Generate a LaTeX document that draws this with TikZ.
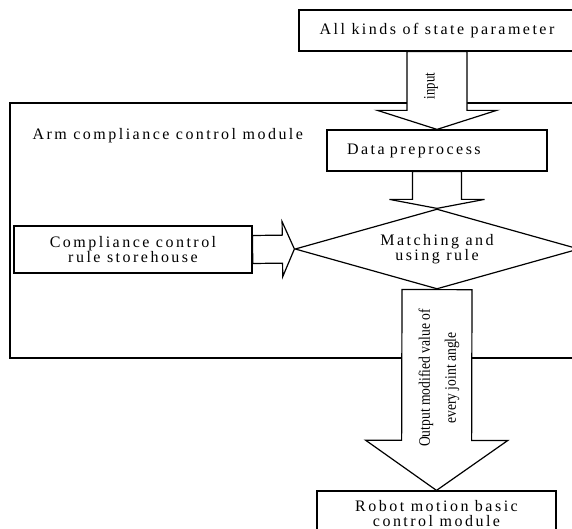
\documentclass[tikz,border=0pt]{standalone}
\usepackage{fontspec}
\setmainfont[LetterSpace=15.5]{Liberation Serif}
\newfontfamily\narrowfont{Liberation Serif}
\usetikzlibrary{shapes.geometric, calc}

% block arrow: start, tip, half shaft width, half head width, head length
\newcommand{\fatarrow}[5]{%
  \coordinate (hb) at ($(#2)!#5!(#1)$);
  \draw[fatarrow] ($(#1)!#3!90:(#2)$) -- ($(hb)!#3!-90:(#1)$) -- ($(hb)!#4!-90:(#1)$) -- (#2)
    -- ($(hb)!#4!90:(#1)$) -- ($(hb)!#3!90:(#1)$) -- ($(#1)!#3!-90:(#2)$) -- cycle;}

\begin{document}
\begin{tikzpicture}[x=1pt, y=-1pt, line width=1.2pt,
                    blockbox/.style={draw, rectangle, align=center, inner sep=0pt, font=\fontsize{16}{15}\selectfont},
                    plaintext/.style={align=center, inner sep=0pt, font=\fontsize{16}{15}\selectfont},
                    turnedtext/.style={rotate=90, align=center, inner sep=0pt, font=\narrowfont\fontsize{16}{26}\selectfont},
                    fatarrow/.style={draw, fill=white}]
    \useasboundingbox (0,0) rectangle (572,529);
    \clip (0,0) rectangle (572,529);
    % Outer module
    \draw (10,103) rectangle (600,358);
    \node[plaintext, anchor=west] (armlabel) at (32,136) {Arm compliance control module};
    % Boxes
    \node[blockbox, minimum width=276pt, minimum height=41pt] (state) at (437,30.5) {All kinds of state parameter};
    \node[blockbox, minimum width=220pt, minimum height=41pt, text width=180pt, align=left, inner xsep=20pt] (prep) at (437,150.5) {Data preprocess};
    \node[blockbox, minimum width=238pt, minimum height=47pt] (rules) at (133,249.5) {Compliance control\\rule storehouse};
    \node[draw, diamond, shape aspect=3.55, minimum width=284pt, minimum height=80pt, inner sep=0pt, align=center,
          font=\fontsize{16}{15}\selectfont] (match) at (437,249) {Matching and\\using rule};
    \node[blockbox, minimum width=239pt, minimum height=46pt] (robot) at (436.5,514) {Robot motion basic\\control module};
    % Block arrows
    \fatarrow{state.south}{prep.north}{30pt}{59.5pt}{19pt}
    \fatarrow{prep.south}{match.north}{24.5pt}{47.5pt}{9pt}
    \fatarrow{rules.east}{match.west}{14pt}{27.5pt}{12pt}
    \fatarrow{match.south}{robot.north}{35pt}{71pt}{50pt}
    % Arrow labels
    \node[turnedtext] (inputlabel) at (431,86) {\scalebox{0.8}[1]{input}};
    \node[turnedtext] (outputlabel) at (439,378) {\scalebox{0.85}[1]{Output modified value of}\\\scalebox{0.85}[1]{every joint angle}};
\end{tikzpicture}
\end{document}
